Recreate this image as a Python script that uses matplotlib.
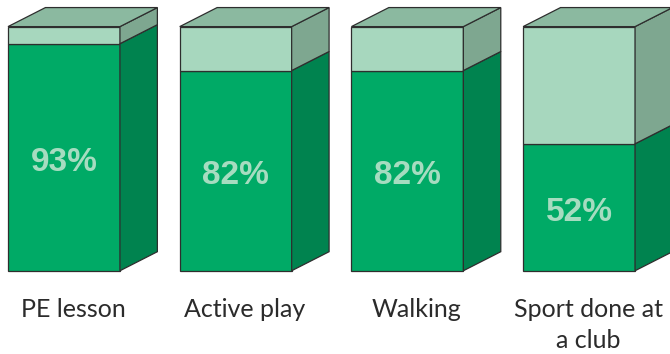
import matplotlib
matplotlib.use('Agg')
import matplotlib.pyplot as plt
from matplotlib.patches import Polygon, Rectangle

activities = ['PE lesson', 'Active play', 'Walking', 'Sport done at\na club']
percent = [93, 82, 82, 52]

# colours of the box faces
front_dark = '#00aa66'
front_light = '#a7d7be'
side_dark = '#00834f'
side_light = '#7ea790'
top_col = '#8bb9a0'
edge = '#2e2e2e'

fig = plt.figure(figsize=(6.7, 3.54), dpi=100)
ax = fig.add_axes([0, 0, 1, 1])
ax.set_xlim(0, 670 / 171.7)
ax.set_ylim(-34.1, 110.9)
ax.axis('off')

w = 0.652      # front face width (in slot units)
dx = 0.218     # depth offset, horizontal
dy = 7.8       # depth offset, vertical (in percent units)
lw = 0.9

for i, (name, v) in enumerate(zip(activities, percent)):
    x0 = i + 0.0466
    x1 = x0 + w
    # front faces
    ax.add_patch(Rectangle((x0, 0), w, v, fc=front_dark, ec=edge, lw=lw))
    ax.add_patch(Rectangle((x0, v), w, 100 - v, fc=front_light, ec=edge, lw=lw))
    # side faces
    ax.add_patch(Polygon([(x1, 0), (x1 + dx, dy), (x1 + dx, v + dy), (x1, v)],
                         closed=True, fc=side_dark, ec=edge, lw=lw))
    ax.add_patch(Polygon([(x1, v), (x1 + dx, v + dy), (x1 + dx, 100 + dy), (x1, 100)],
                         closed=True, fc=side_light, ec=edge, lw=lw))
    # top face
    ax.add_patch(Polygon([(x0, 100), (x0 + dx, 100 + dy), (x1 + dx, 100 + dy), (x1, 100)],
                         closed=True, fc=top_col, ec=edge, lw=lw))

    ax.text(x0 + w / 2, v / 2 - 5.5, f'{v}%', ha='center', va='baseline',
            fontsize=24, fontweight='bold', family='Liberation Sans', color='#a6dcc0')
    # category name, one line at a time
    for k, line in enumerate(name.split('\n')):
        ax.text(x0 + w / 2 + 0.053, -18.9 - 12.7 * k, line, ha='center', va='baseline',
                fontsize=18, family='Lato', color='#2b2b2b')

fig.savefig('out.png', dpi=100)
